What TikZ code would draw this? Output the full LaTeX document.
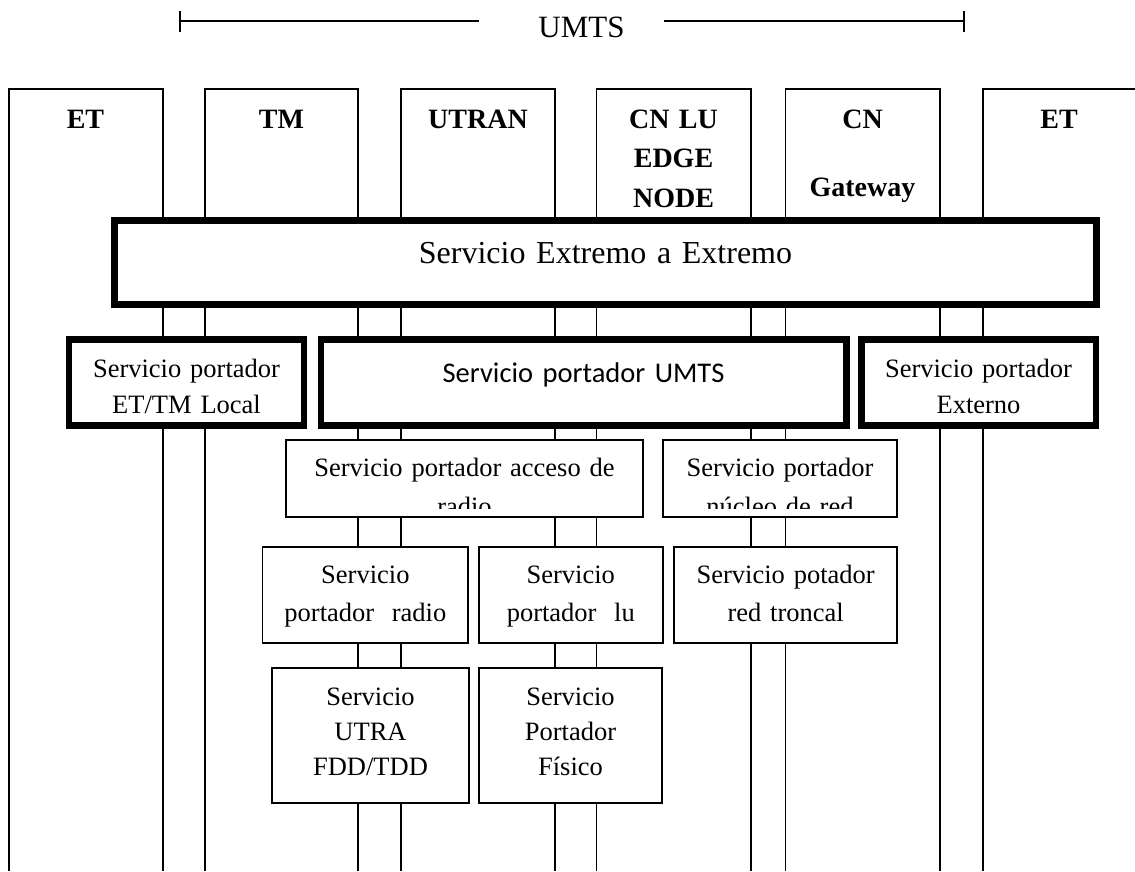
\documentclass[tikz,border=0pt]{standalone}
\usepackage{fontspec}
\setmainfont{Liberation Serif}
\newfontfamily\calibrifont{Carlito}
\newcommand\setfs[2]{\fontsize{#1}{#2}\selectfont}
\tikzset{
  colline/.style={line width=1.8pt, line join=miter},
  thickbox/.style={draw, line width=6.5pt, fill=white, inner sep=0pt, rectangle},
  thinbox/.style={draw, line width=1.8pt, fill=white, inner sep=0pt, rectangle},
  txt/.style={anchor=base, inner sep=0pt, text width=440pt, align=center},
  head/.style={txt, font=\bfseries\setfs{28}{39.5}},
  body/.style={txt, font=\setfs{26.5}{36}},
}
\begin{document}
\begin{tikzpicture}[x=1pt,y=-1pt]
\useasboundingbox (0,0) rectangle (1135,871);

% UMTS span marker
\node[txt, font=\setfs{31}{36}] (umts) at (581.5,37) {UMTS};
\coordinate (uL) at (180,21);  \coordinate (uLend) at (479,21);
\coordinate (uR) at (964,21);  \coordinate (uRbeg) at (664,21);
\draw[line width=1.8pt] (uL) -- (uLend);
\draw[line width=1.8pt] (uRbeg) -- (uR);
\draw[line width=1.8pt] ([yshift=10pt]uL) -- ([yshift=-11pt]uL);
\draw[line width=1.8pt] ([yshift=10pt]uR) -- ([yshift=-11pt]uR);

% open-bottomed columns of the network elements
\foreach \l/\r in {9/163, 204.9/358.3, 401/555.2, 596.5/750.6, 785.4/939.6}
  \draw[colline] (\l,871) -- (\l,89) -- (\r,89) -- (\r,871);
\draw[colline] (983,871) -- (983,89) -- (1135,89);

% column headers
\node[head] (et1)   at (85.5,128)  {ET};
\node[head] (tm)    at (281.5,128) {TM};
\node[head] (utran) at (478,128)   {UTRAN};
\node[head] (cnlu)  at (673.5,128) {CN LU\\EDGE\\NODE};
\node[head, font=\bfseries\setfs{28}{68}] (cngw) at (862.5,128) {CN\\Gateway};
\node[head] (et2)   at (1059,128)  {ET};

% end-to-end service
\node[thickbox, minimum width=982, minimum height=84] (ext) at (605.5,262.5) {};
\node[txt, font=\setfs{32}{36}] (extT) at (605.5,263) {Servicio Extremo a Extremo};

% bearer services, second level
\node[thickbox, minimum width=235, minimum height=85.8]   (loc)  at (186.5,382.6) {};
\node[thickbox, minimum width=525.5, minimum height=85.8] (umtsb) at (583.75,382.6) {};
\node[thickbox, minimum width=234.5, minimum height=85.8] (xtn)  at (978.75,382.6) {};
\node[body] (locT) at (186.5,377) {Servicio portador\\ET/TM Local};
\node[txt, font=\calibrifont\setfs{28.5}{36}] (umtsT) at (583.5,382) {Servicio portador UMTS};
\node[body] (xtnT) at (978.5,377) {Servicio portador\\Externo};

% third level
\node[thinbox, minimum width=357, minimum height=77] (acc) at (464.5,478.5) {};
\node[thinbox, minimum width=234, minimum height=77] (nuc) at (780,478.5) {};
\begin{scope}
  \clip (286,440) rectangle (643,508);
  \node[body, font=\setfs{26.5}{39}] (accT) at (464.5,476) {Servicio portador acceso de\\radio};
\end{scope}
\begin{scope}
  \clip (663,440) rectangle (897,508);
  \node[body, font=\setfs{26.5}{39}] (nucT) at (780,476) {Servicio portador\\núcleo de red};
\end{scope}

% fourth level
\node[thinbox, minimum width=205.8, minimum height=96] (rad) at (365.4,594.7) {};
\node[thinbox, minimum width=184.4, minimum height=96] (iu)  at (570.8,594.7) {};
\node[thinbox, minimum width=223.3, minimum height=96] (tro) at (785.65,594.7) {};
\node[body, font=\setfs{26.5}{38}] (radT) at (365.4,583) {Servicio\\portador\ \ radio};
\node[body, font=\setfs{26.5}{38}] (iuT)  at (570.8,583) {Servicio\\portador\ \ lu};
\node[body, font=\setfs{26.5}{38}] (troT) at (785.65,583) {Servicio potador\\red troncal};

% fifth level
\node[thinbox, minimum width=197, minimum height=135] (utra) at (370.5,735.5) {};
\node[thinbox, minimum width=183, minimum height=135] (fis)  at (570.5,735.5) {};
\node[body, font=\setfs{26.5}{35}] (utraT) at (370.5,705) {Servicio\\UTRA\\FDD/TDD};
\node[body, font=\setfs{26.5}{35}] (fisT)  at (570.5,705) {Servicio\\Portador\\Físico};
\end{tikzpicture}
\end{document}
